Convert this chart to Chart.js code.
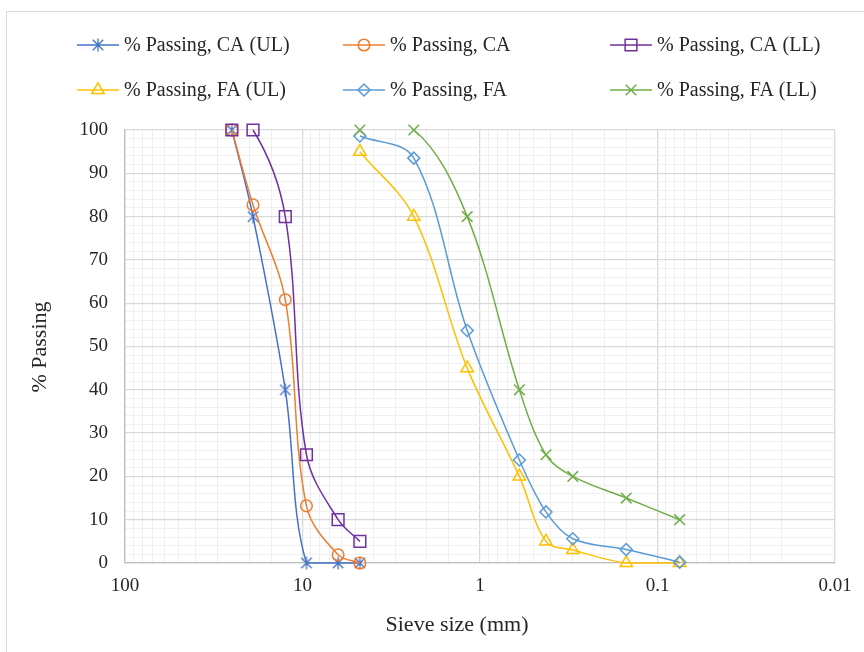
<!DOCTYPE html>
<html>
<head>
<meta charset="utf-8">
<script src="https://cdn.jsdelivr.net/npm/chart.js@4.4.1/dist/chart.umd.min.js"></script>
<style>
html,body{margin:0;padding:0;background:#fff;}
#wrap{position:relative;width:864px;height:652px;overflow:hidden;}
#frame{position:absolute;left:6px;top:11px;width:900px;height:700px;border-left:1.5px solid #d9d9d9;border-top:1.5px solid #d9d9d9;box-sizing:border-box;}
canvas{position:absolute;left:0;top:0;}
</style>
</head>
<body>
<div id="wrap"><div id="frame"></div><canvas id="c" width="864" height="652"></canvas></div>
<script>
// ---- data ----
const xTickLabels = [100, 10, 1, 0.1, 0.01];
const caSieve = [25, 19, 12.5, 9.5, 6.3, 4.75];
const caUL  = [100, 80, 40, 0, 0, 0];
const caMid = [100, 82.7, 60.8, 13.2, 1.9, 0];
const caLL  = [100, 100, 80, 25, 10, 5];
const faSieve = [4.75, 2.36, 1.18, 0.6, 0.425, 0.3, 0.15, 0.075];
const faUL  = [95, 80, 45, 20, 5, 3, 0, 0];
const faMid = [98.6, 93.5, 53.7, 23.8, 11.8, 5.6, 3.1, 0.2];
const faLL  = [100, 100, 80, 40, 25, 20, 15, 10];
const seriesNames = ['% Passing, CA (UL)', '% Passing, CA', '% Passing, CA (LL)',
                     '% Passing, FA (UL)', '% Passing, FA', '% Passing, FA (LL)'];

function pts(xs, ys) { return xs.map((x, i) => ({ x: x, y: ys[i] })); }

function makeAsterisk(color, size) {
  const c = document.createElement('canvas');
  c.width = size; c.height = size;
  const g = c.getContext('2d');
  g.strokeStyle = color; g.lineWidth = 1.3;
  const m = size / 2, r = size / 2 - 0.5, d = r * 0.8;
  g.beginPath();
  g.moveTo(m, m - r); g.lineTo(m, m + r);
  g.moveTo(m - d, m - d); g.lineTo(m + d, m + d);
  g.moveTo(m + d, m - d); g.lineTo(m - d, m + d);
  g.stroke();
  return c;
}

const colors = ['#4472C4', '#ED7D31', '#7030A0', '#FFC000', '#5B9BD5', '#70AD47'];
const styles = [makeAsterisk('#4472C4', 14), 'circle', 'rect', 'triangle', 'rectRot', 'crossRot'];
const radii = [7, 5.8, 8.3, 7.2, 6, 7.5];
const seriesData = [pts(caSieve, caUL), pts(caSieve, caMid), pts(caSieve, caLL),
                    pts(faSieve, faUL), pts(faSieve, faMid), pts(faSieve, faLL)];

const hideTopEdge = ctx => (ctx.p0.parsed.y >= 100 && ctx.p1.parsed.y >= 100) ? 'rgba(0,0,0,0)' : undefined;

const datasets = seriesData.map((d, i) => ({
  label: seriesNames[i],
  data: d,
  borderColor: colors[i],
  backgroundColor: colors[i],
  borderWidth: 1.5,
  pointStyle: styles[i],
  pointRadius: radii[i],
  pointBorderWidth: 1.5,
  pointBorderColor: colors[i],
  pointBackgroundColor: 'rgba(255,255,255,0)',
  tension: 0.35,
  fill: false,
  clip: false,
  segment: { borderColor: hideTopEdge },
  order: 6 - i
}));

const FONT = '"Liberation Serif", "Times New Roman", serif';
const TXT = '#262626';

function isPow10(v) {
  const l = Math.log10(v);
  return Math.abs(l - Math.round(l)) < 1e-6;
}

const legendCols = [77, 343, 610];
const legendRows = [45, 90];

const decor = {
  id: 'decor',
  afterDraw(chart) {
    const ctx = chart.ctx;
    ctx.save();
    chart.data.datasets.forEach((ds, i) => {
      const x0 = legendCols[i % 3], y = legendRows[Math.floor(i / 3)];
      ctx.strokeStyle = ds.borderColor;
      ctx.lineWidth = ds.borderWidth;
      ctx.beginPath(); ctx.moveTo(x0, y); ctx.lineTo(x0 + 42, y); ctx.stroke();
      ctx.strokeStyle = ds.pointBorderColor;
      ctx.fillStyle = 'rgba(255,255,255,0)';
      ctx.lineWidth = ds.pointBorderWidth;
      Chart.helpers.drawPoint(ctx, { pointStyle: ds.pointStyle, radius: ds.pointRadius, borderWidth: ds.pointBorderWidth, rotation: 0 }, x0 + 21, y);
      ctx.fillStyle = TXT;
      ctx.font = '20px ' + FONT;
      ctx.textAlign = 'left'; ctx.textBaseline = 'middle';
      ctx.fillText(ds.label, x0 + 47, y + 1);
    });
    ctx.fillStyle = TXT;
    ctx.font = '22px ' + FONT;
    ctx.textAlign = 'center'; ctx.textBaseline = 'middle';
    ctx.fillText('Sieve size (mm)', 457, 625);
    ctx.translate(40, 347);
    ctx.rotate(-Math.PI / 2);
    ctx.fillText('% Passing', 0, 0);
    ctx.restore();
  }
};

new Chart(document.getElementById('c'), {
  type: 'line',
  data: { datasets: datasets },
  plugins: [decor],
  options: {
    responsive: false,
    animation: false,
    devicePixelRatio: 1,
    layout: { padding: { left: 0, right: 29, top: 130, bottom: 0 } },
    plugins: { legend: { display: false }, tooltip: { enabled: false } },
    scales: {
      x: {
        type: 'logarithmic',
        reverse: true,
        min: 0.01, max: 100,
        position: 'bottom',
        afterFit: s => { s.height = 89; },
        border: { color: '#bfbfbf', width: 1.3 },
        grid: {
          drawTicks: false,
          lineWidth: ctx => (ctx.tick && isPow10(ctx.tick.value)) ? 1.3 : 1,
          color: ctx => (ctx.tick && isPow10(ctx.tick.value)) ? '#d9d9d9' : '#eeeeee'
        },
        ticks: {
          autoSkip: false, maxRotation: 0, padding: 12,
          color: TXT, font: { family: FONT, size: 19 },
          callback: v => {
            const t = xTickLabels.find(t => Math.abs(t - v) < 1e-9);
            return t !== undefined ? String(t) : '';
          }
        }
      },
      y: {
        min: 0, max: 100,
        afterFit: s => { s.width = 125; },
        border: { color: '#bfbfbf', width: 1.3 },
        grid: {
          drawTicks: false,
          lineWidth: ctx => (ctx.tick && ctx.tick.value % 10 === 0) ? 1.3 : 1,
          color: ctx => (ctx.tick && ctx.tick.value % 10 === 0) ? '#d9d9d9' : '#f0f0f0'
        },
        ticks: {
          stepSize: 2, autoSkip: false, padding: 17,
          color: TXT, font: { family: FONT, size: 19 },
          callback: v => (v % 10 === 0 ? String(v) : '')
        }
      }
    }
  }
});
</script>
</body>
</html>
